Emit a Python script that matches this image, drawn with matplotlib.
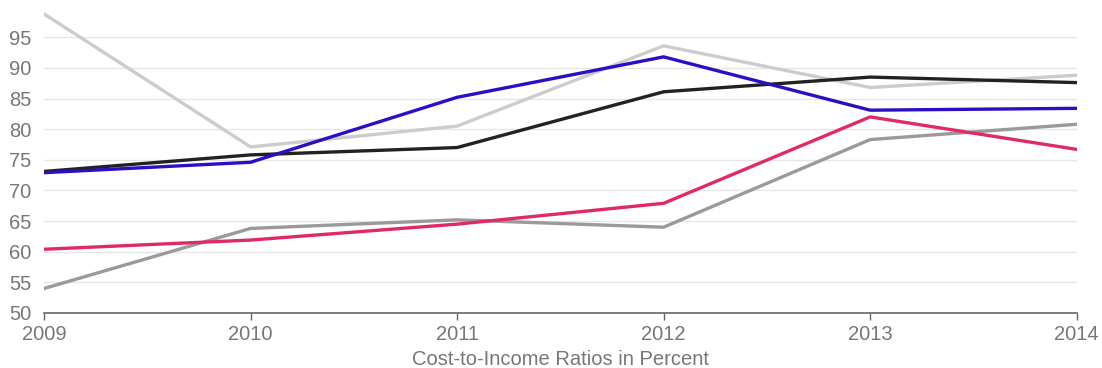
import matplotlib
matplotlib.use("Agg")
import matplotlib.pyplot as plt

years = [2009, 2010, 2011, 2012, 2013, 2014]
light_gray = [98.8, 77.1, 80.5, 93.6, 86.8, 88.8]
blue = [72.9, 74.6, 85.2, 91.8, 83.1, 83.4]
black = [73.1, 75.8, 77.0, 86.1, 88.5, 87.6]
pink = [60.4, 61.9, 64.5, 67.9, 82.0, 76.7]
gray = [54.0, 63.8, 65.2, 64.0, 78.3, 80.8]
yticks = [50, 55, 60, 65, 70, 75, 80, 85, 90, 95]
xlabel = "Cost-to-Income Ratios in Percent"

plt.rcParams['font.family'] = ['Liberation Sans', 'DejaVu Sans']
fig = plt.figure(figsize=(11.02, 3.68), dpi=100)
ax = fig.add_axes([0.040, 0.1495, 0.937, 0.8325])

series = [
    (light_gray, "#cccccc"),
    (gray, "#9a9a9a"),
    (pink, "#e02a68"),
    (black, "#222222"),
    (blue, "#2a0fc4"),
]
for vals, col in series:
    ax.plot(years, vals, color=col, lw=2.4, solid_joinstyle='miter', zorder=3)

ax.set_xlim(2009, 2014)
ax.set_ylim(50, 100)
ax.set_yticks(yticks)
ax.set_xticks(years)
for y in yticks[1:]:
    ax.axhline(y, color="#e6e6e6", lw=1, zorder=1)

for s in ["top", "right", "left"]:
    ax.spines[s].set_visible(False)
ax.spines["bottom"].set_color("#666666")
ax.spines["bottom"].set_linewidth(1.2)
ax.tick_params(axis='y', length=0, pad=9, labelsize=14.5, labelcolor="#777777")
ax.tick_params(axis='x', length=5, width=1, color="#666666", pad=4,
               labelsize=14.5, labelcolor="#777777")
ax.set_xlabel(xlabel, fontsize=14.5, color="#777777", labelpad=4)

fig.savefig("out.png", dpi=100)
